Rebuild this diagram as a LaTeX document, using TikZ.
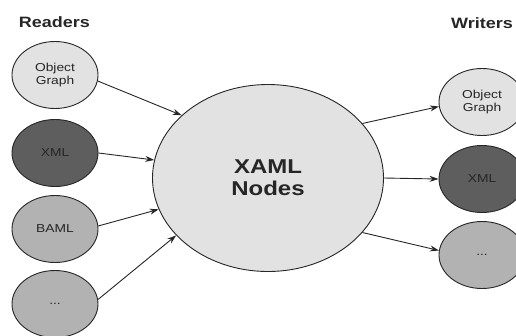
\documentclass[tikz,border=0pt]{standalone}
\usepackage{fontspec}
\setmainfont{Liberation Sans}[FakeStretch=1.2]
\usetikzlibrary{shapes.geometric,arrows.meta}
\definecolor{lightfill}{HTML}{E2E2E2}
\definecolor{darkfill}{HTML}{5E5E5E}
\definecolor{midfill}{HTML}{B2B2B2}
\definecolor{inkgrey}{HTML}{262626}
\tikzset{
    blob/.style={ellipse,draw=inkgrey,line width=0.9pt,inner sep=0pt,
        minimum width=86pt,minimum height=67pt,align=center,
        font=\fontsize{11.5}{13.5}\selectfont,text=inkgrey},
    flow/.style={line width=0.9pt,draw=inkgrey,-{Stealth[length=9pt,width=6pt]}},
    heading/.style={anchor=base,font=\bfseries\fontsize{15}{17}\selectfont,text=inkgrey}
}
\begin{document}
\begin{tikzpicture}[x=1pt,y=-1pt]
    \useasboundingbox (0,0) rectangle (516,335);

    \node (readers) [heading] at (54.5,27) {Readers};
    \node (writers) [heading] at (482,28) {Writers};

    \node (ogl) [blob,fill=lightfill] at (55,75) {Object\\Graph};
    \node (xmll) [blob,fill=darkfill] at (55,153) {XML};
    \node (bamll) [blob,fill=midfill] at (55,229) {BAML};
    \node (dotsl) [blob,fill=midfill] at (55,304) {...};

    \node (xaml) [ellipse,draw=inkgrey,line width=0.9pt,fill=lightfill,
        minimum width=231pt,minimum height=187pt,align=center,text=inkgrey,
        font=\bfseries\fontsize{20}{22}\selectfont] at (268,178) {XAML\\Nodes};

    \node (ogr) [blob,fill=lightfill] at (482,102) {Object\\Graph};
    \node (xmlr) [blob,fill=darkfill] at (482,179) {XML};
    \node (dotsr) [blob,fill=midfill] at (482,255) {...};

    \draw[flow] (ogl.-8) -- (xaml.144);
    \draw[flow] (xmll.east) -- (xaml.171);
    \draw[flow] (bamll.4) -- (xaml.196);
    \draw[flow] (dotsl.6) -- (xaml.212);

    \draw[flow] (xaml.30) -- (ogr.186);
    \draw[flow] (xaml.east) -- (xmlr.west);
    \draw[flow] (xaml.-30) -- (dotsr.174);
\end{tikzpicture}
\end{document}
